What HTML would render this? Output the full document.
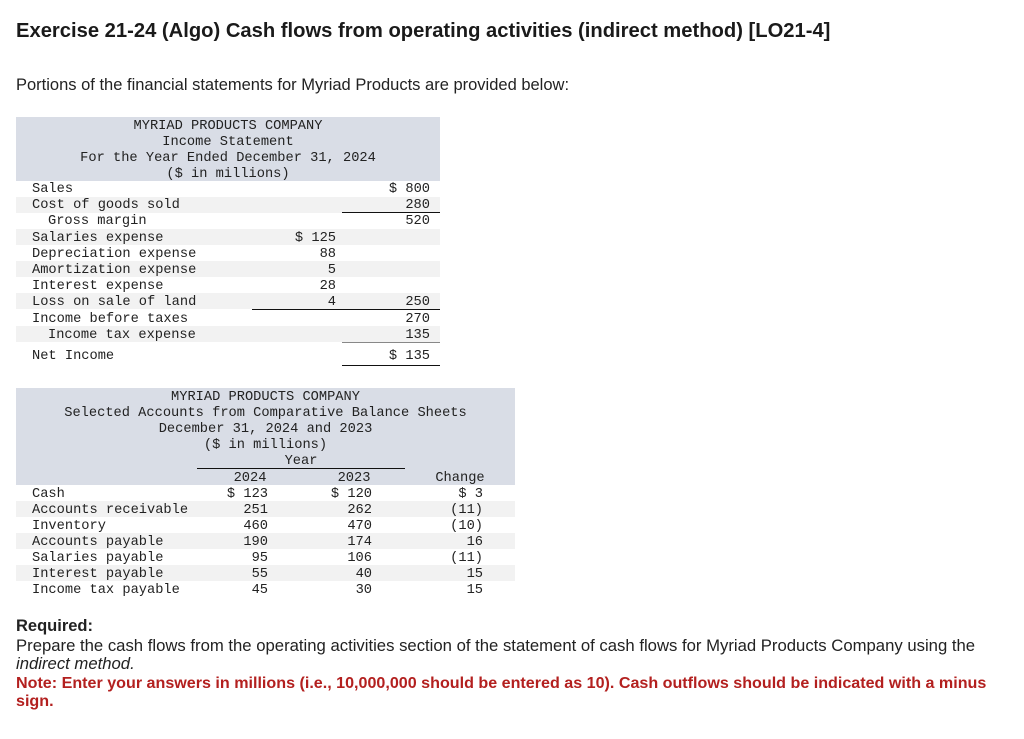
<!DOCTYPE html>
<html><head><meta charset="utf-8"><style>
body{margin:0;width:1024px;height:739px;background:#fff;position:relative;overflow:hidden;font-family:"Liberation Sans",sans-serif;color:#222}
.a{position:absolute;white-space:nowrap}
.m{font-family:"Liberation Mono",monospace;font-size:13.7px;line-height:16px;color:#222;transform:translateY(2px)}
.r{text-align:right}
.c{text-align:center}
.bg{position:absolute;background:#d9dde6}
.st{position:absolute;background:#f2f2f2}
.ln{position:absolute;height:1px;background:#111}
</style></head><body>
<div class="a" style="left:16px;top:20px;font-size:20.2px;font-weight:bold;color:#1a1a1a">Exercise 21-24 (Algo) Cash flows from operating activities (indirect method) [LO21-4]</div>
<div class="a" style="left:16px;top:76px;font-size:16.5px">Portions of the financial statements for Myriad Products are provided below:</div>

<div>
<div class="bg" style="left:16px;top:117px;width:424px;height:64px"></div>
<div class="st" style="left:16px;top:197px;width:424px;height:16px"></div>
<div class="st" style="left:16px;top:229px;width:424px;height:16px"></div>
<div class="st" style="left:16px;top:261px;width:424px;height:16px"></div>
<div class="st" style="left:16px;top:293px;width:424px;height:16px"></div>
<div class="st" style="left:16px;top:326px;width:424px;height:16px"></div>
<div class="a m c" style="left:16px;width:424px;top:117px">MYRIAD PRODUCTS COMPANY</div>
<div class="a m c" style="left:16px;width:424px;top:133px">Income Statement</div>
<div class="a m c" style="left:16px;width:424px;top:149px">For the Year Ended December 31, 2024</div>
<div class="a m c" style="left:16px;width:424px;top:165px">($ in millions)</div>
<div class="a m" style="left:32px;top:180px">Sales</div><div class="a m r" style="left:340px;width:90px;top:180px">$ 800</div>
<div class="a m" style="left:32px;top:196px">Cost of goods sold</div><div class="a m r" style="left:340px;width:90px;top:196px">280</div>
<div class="a m" style="left:48px;top:212px">Gross margin</div><div class="a m r" style="left:340px;width:90px;top:212px">520</div>
<div class="a m" style="left:32px;top:229px">Salaries expense</div><div class="a m r" style="left:246px;width:90px;top:229px">$ 125</div>
<div class="a m" style="left:32px;top:245px">Depreciation expense</div><div class="a m r" style="left:246px;width:90px;top:245px">88</div>
<div class="a m" style="left:32px;top:261px">Amortization expense</div><div class="a m r" style="left:246px;width:90px;top:261px">5</div>
<div class="a m" style="left:32px;top:277px">Interest expense</div><div class="a m r" style="left:246px;width:90px;top:277px">28</div>
<div class="a m" style="left:32px;top:293px">Loss on sale of land</div><div class="a m r" style="left:246px;width:90px;top:293px">4</div><div class="a m r" style="left:340px;width:90px;top:293px">250</div>
<div class="a m" style="left:32px;top:310px">Income before taxes</div><div class="a m r" style="left:340px;width:90px;top:310px">270</div>
<div class="a m" style="left:48px;top:326px">Income tax expense</div><div class="a m r" style="left:340px;width:90px;top:326px">135</div>
<div class="a m" style="left:32px;top:347px">Net Income</div><div class="a m r" style="left:340px;width:90px;top:347px">$ 135</div>
<div class="ln" style="left:342px;top:212px;width:98px"></div>
<div class="ln" style="left:252px;top:309px;width:188px"></div>
<div class="ln" style="left:342px;top:342px;width:98px;background:#888"></div>
<div class="ln" style="left:342px;top:365px;width:98px"></div>
</div>

<div>
<div class="bg" style="left:16px;top:388px;width:499px;height:97px"></div>
<div class="st" style="left:16px;top:501px;width:499px;height:16px"></div>
<div class="st" style="left:16px;top:533px;width:499px;height:16px"></div>
<div class="st" style="left:16px;top:565px;width:499px;height:16px"></div>
<div class="a m c" style="left:16px;width:499px;top:388px">MYRIAD PRODUCTS COMPANY</div>
<div class="a m c" style="left:16px;width:499px;top:404px">Selected Accounts from Comparative Balance Sheets</div>
<div class="a m c" style="left:16px;width:499px;top:420px">December 31, 2024 and 2023</div>
<div class="a m c" style="left:16px;width:499px;top:436px">($ in millions)</div>
<div class="a m c" style="left:197px;width:208px;top:452px">Year</div>
<div class="ln" style="left:197px;top:468px;width:208px"></div>
<div class="a m c" style="left:210px;width:80px;top:469px">2024</div>
<div class="a m c" style="left:314px;width:80px;top:469px">2023</div>
<div class="a m c" style="left:420px;width:80px;top:469px">Change</div>
<div id="rows"></div>
</div>

<div class="a" style="left:16px;top:617px;font-size:16.5px;font-weight:bold">Required:</div>
<div class="a" style="left:16px;top:636px;font-size:16.7px">Prepare the cash flows from the operating activities section of the statement of cash flows for Myriad Products Company using the</div>
<div class="a" style="left:16px;top:654px;font-size:16.7px;font-style:italic">indirect method.</div>
<div class="a" style="left:16px;top:674px;font-size:16.1px;font-weight:bold;color:#b3201f">Note: Enter your answers in millions (i.e., 10,000,000 should be entered as 10). Cash outflows should be indicated with a minus</div>
<div class="a" style="left:16px;top:692px;font-size:16.1px;font-weight:bold;color:#b3201f">sign.</div>

<script>
const accounts=["Cash","Accounts receivable","Inventory","Accounts payable","Salaries payable","Interest payable","Income tax payable"];
const y2024=["$ 123","251","460","190","95","55","45"];
const y2023=["$ 120","262","470","174","106","40","30"];
const changes=["$ 3","(11)","(10)","16","(11)","15","15"];
const rows=document.getElementById('rows');
accounts.forEach((a,i)=>{
  const top=485+i*16;
  const cells=[[a,32,null],[y2024[i],178,90],[y2023[i],282,90],[changes[i],393,90]];
  cells.forEach((c,j)=>{
    const d=document.createElement('div');
    d.className='a m'+(j?' r':'');
    d.style.left=c[1]+'px';d.style.top=top+'px';
    if(c[2])d.style.width=c[2]+'px';
    d.textContent=c[0];
    
    
    rows.appendChild(d);
  });
});
</script>
</body></html>
